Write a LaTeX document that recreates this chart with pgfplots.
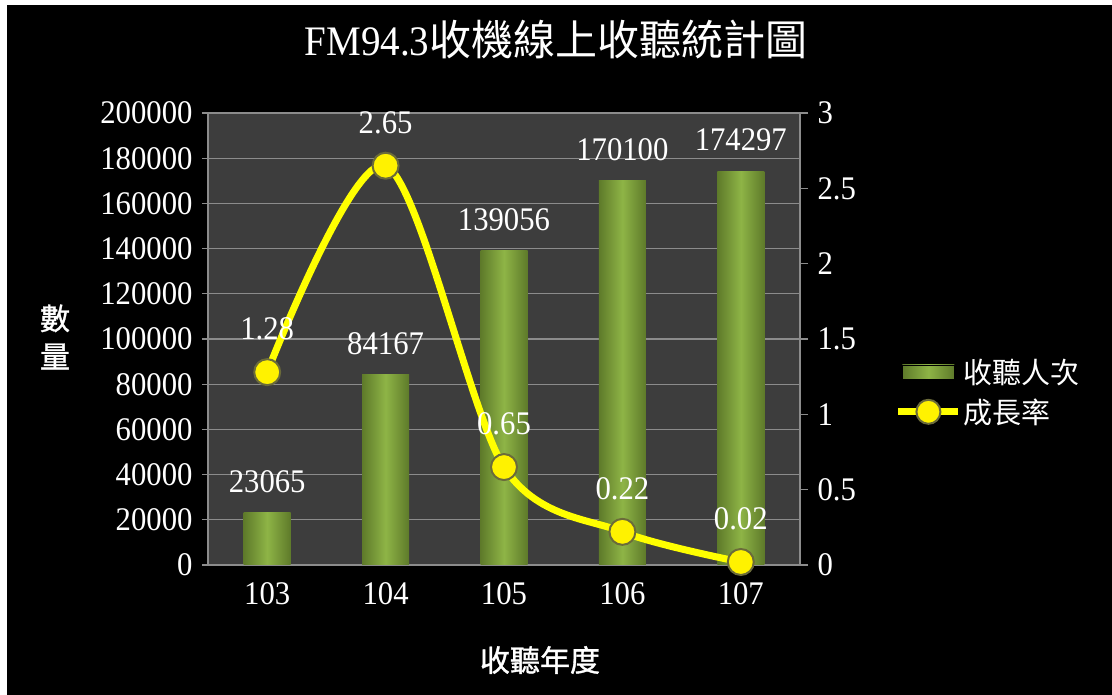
\documentclass[border=0pt]{standalone}
\usepackage{fontspec}
\usepackage{pgfplots}
\pgfplotsset{compat=1.18}
\setmainfont[FakeStretch=0.93]{Liberation Serif}
\newfontfamily\cjk{Noto Sans CJK TC}
\newfontfamily\cjkb[FakeBold=1.2]{Noto Sans CJK TC}
\definecolor{plotbg}{HTML}{3D3D3D}
\definecolor{gridc}{HTML}{8C8C8C}
\definecolor{barmid}{HTML}{8EB446}
\definecolor{baredge}{HTML}{5E7A2A}
\definecolor{lineyel}{HTML}{FFFF00}
\definecolor{rim}{HTML}{6B6B3A}
\newcommand\numfont{\rmfamily\fontsize{33}{36}\selectfont}

\pgfplotstableread{
x n
0 23065
1 84167
2 139056
3 170100
4 174297
}\bartable
\pgfplotstableread{
x r
0 1.28
1 2.65
2 0.65
3 0.22
4 0.02
}\ratetable

\pgfplotsset{
  onebar/.style={ybar, bar width=47pt, bar shift=0pt, draw=none,
    left color=baredge, right color=baredge, middle color=barmid,
    nodes near coords={\pgfmathprintnumber[fixed,1000 sep={},assume math mode=true]{\pgfplotspointmeta}},
    nodes near coords style={white, font=\numfont, anchor=south, inner sep=0pt, yshift=20pt}},
}

\begin{document}
\begin{tikzpicture}
\fill[white] (0pt,0pt) rectangle (1112pt,695pt);
\fill[black] (7pt,0pt) rectangle (1112pt,690pt);
\path[use as bounding box] (0pt,0pt) rectangle (1112pt,695pt);
\begin{axis}[
  at={(208pt,130pt)}, anchor=south west,
  scale only axis, width=592pt, height=452pt,
  xmin=-0.5, xmax=4.5, ymin=0, ymax=200000,
  axis background/.style={fill=plotbg},
  axis x line*=bottom, axis y line*=left,
  axis line style={gridc, line width=1.2pt, -},
  xtick={0,1,2,3,4}, xticklabels={103,104,105,106,107},
  minor xtick={-0.5,0.5,1.5,2.5,3.5,4.5},
  xtick style={draw=none},
  minor x tick style={gridc, line width=1.2pt},
  minor tick length=8pt,
  ytick={0,20000,40000,60000,80000,100000,120000,140000,160000,180000,200000},
  ytick style={gridc, line width=1.2pt},
  major tick length=6pt,
  tick align=outside,
  ymajorgrids, grid style={gridc, line width=1.2pt},
  scaled y ticks=false,
  yticklabel style={/pgf/number format/fixed, /pgf/number format/1000 sep={}},
  /pgf/number format/assume math mode=true,
  tick label style={white, font=\numfont},
  xticklabel style={yshift=-8pt},
  yticklabel style={xshift=-6pt},
  clip=false,
]
\addplot[onebar, restrict x to domain=-0.1:0.1] table[x=x, y=n] {\bartable};
\addplot[onebar, restrict x to domain=0.9:1.1] table[x=x, y=n] {\bartable};
\addplot[onebar, restrict x to domain=1.9:2.1] table[x=x, y=n] {\bartable};
\addplot[onebar, restrict x to domain=2.9:3.1] table[x=x, y=n] {\bartable};
\addplot[onebar, restrict x to domain=3.9:4.1] table[x=x, y=n] {\bartable};
\end{axis}
\begin{axis}[
  at={(208pt,130pt)}, anchor=south west,
  scale only axis, width=592pt, height=452pt,
  xmin=-0.5, xmax=4.5, ymin=0, ymax=3,
  axis x line=none, axis y line*=right,
  axis line style={gridc, line width=1.2pt, -},
  ytick={0,0.5,1,1.5,2,2.5,3},
  ytick style={gridc, line width=1.2pt},
  major tick length=8pt, tick align=outside,
  yticklabel style={/pgf/number format/fixed, white, font=\numfont, xshift=6pt},
  /pgf/number format/assume math mode=true,
  clip=false,
  legend style={at={(1.16,0.383)}, anchor=west, draw=none, fill=black,
    text=white, font=\cjk\fontsize{29}{32}\selectfont, row sep=10pt,
    inner sep=0pt, cells={anchor=west}},
  legend cell align=left,
]
\addlegendimage{legend image code/.code={\shade[left color=baredge, right color=baredge, middle color=barmid] (0pt,-7pt) rectangle (52pt,7pt);}}
\addlegendentry{收聽人次}
\addplot[lineyel, line width=7pt, smooth, mark=*, mark size=13pt,
  mark options={fill=yellow, draw=rim, line width=2pt},
  nodes near coords={\pgfmathprintnumber[fixed,fixed zerofill,precision=2,assume math mode=true]{\pgfplotspointmeta}},
  nodes near coords style={white, font=\numfont, anchor=south, inner sep=0pt, yshift=31pt},
  legend image code/.code={\draw[lineyel, line width=7pt] (-4pt,0pt)--(56pt,0pt); \filldraw[fill=yellow, draw=rim, line width=2pt] (26pt,0pt) circle (12pt);}]
  table[x=x, y=r] {\ratetable};
\addlegendentry{成長率}
\end{axis}
\node[white, font=\cjk\fontsize{42}{46}\selectfont] at (556pt,655pt) {{\rmfamily FM94.3}收機線上收聽統計圖};
\node[white, font=\cjkb\fontsize{30}{38}\selectfont, align=center] at (55pt,358pt) {數\\量};
\node[white, font=\cjkb\fontsize{30}{34}\selectfont] at (540pt,35pt) {收聽年度};
\end{tikzpicture}
\end{document}
